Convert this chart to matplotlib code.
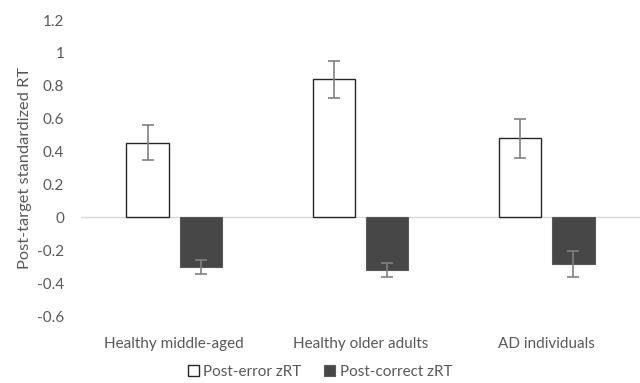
import matplotlib
matplotlib.use("Agg")
import matplotlib.pyplot as plt
import numpy as np

groups = ["Healthy middle-aged", "Healthy older adults", "AD individuals"]
post_error = [0.455, 0.84, 0.48]
post_error_err = [0.105, 0.113, 0.118]
post_correct = [-0.30, -0.32, -0.285]
post_correct_err = [0.043, 0.042, 0.08]

plt.rcParams['font.family'] = ['Lato', 'DejaVu Sans']
txt = "#595959"

fig = plt.figure(figsize=(6.4, 3.83), dpi=100)
ax = fig.add_axes([81 / 640, 1 - 316 / 383, 1 - 81 / 640, (316 - 20) / 383])

x = np.arange(len(groups))
w = 0.226
off = 0.143
ax.bar(x - off, post_error, w, color="white", edgecolor="#262626", linewidth=1.0,
       label="Post-error zRT", zorder=3)
ax.bar(x + off, post_correct, w, color="#474747", edgecolor="#595959", linewidth=0.8,
       label="Post-correct zRT", zorder=3)
ax.errorbar(x - off, post_error, yerr=post_error_err, fmt="none", ecolor="#808080",
            elinewidth=1.2, capsize=4, capthick=1.2, zorder=4)
ax.errorbar(x + off, post_correct, yerr=post_correct_err, fmt="none", ecolor="#808080",
            elinewidth=1.2, capsize=4, capthick=1.2, zorder=4)

ax.axhline(0, color="#d9d9d9", linewidth=1, zorder=2)
ax.set_xlim(-0.5, 2.5)
ax.set_ylim(-0.6, 1.2)
ticks = [-0.6, -0.4, -0.2, 0, 0.2, 0.4, 0.6, 0.8, 1, 1.2]
ax.set_yticks(ticks)
ax.set_yticklabels(["-0.6", "-0.4", "-0.2", "0", "0.2", "0.4", "0.6", "0.8", "1", "1.2"])
ax.set_xticks(x)
ax.set_xticklabels(groups)
ax.tick_params(axis="both", length=0, labelsize=11, labelcolor=txt)
ax.tick_params(axis="y", pad=12)
ax.tick_params(axis="x", pad=15)
for s in ax.spines.values():
    s.set_visible(False)

ax.set_ylabel("Post-target standardized RT", fontsize=11.8, color=txt, labelpad=4)

leg = fig.legend(loc="center", bbox_to_anchor=(0.5, 1 - 372 / 383), ncol=2,
                 frameon=False, fontsize=11, handlelength=0.7, handleheight=0.7,
                 handletextpad=0.3, columnspacing=1.5)
for t in leg.get_texts():
    t.set_color(txt)

fig.savefig("out.png", dpi=100)
